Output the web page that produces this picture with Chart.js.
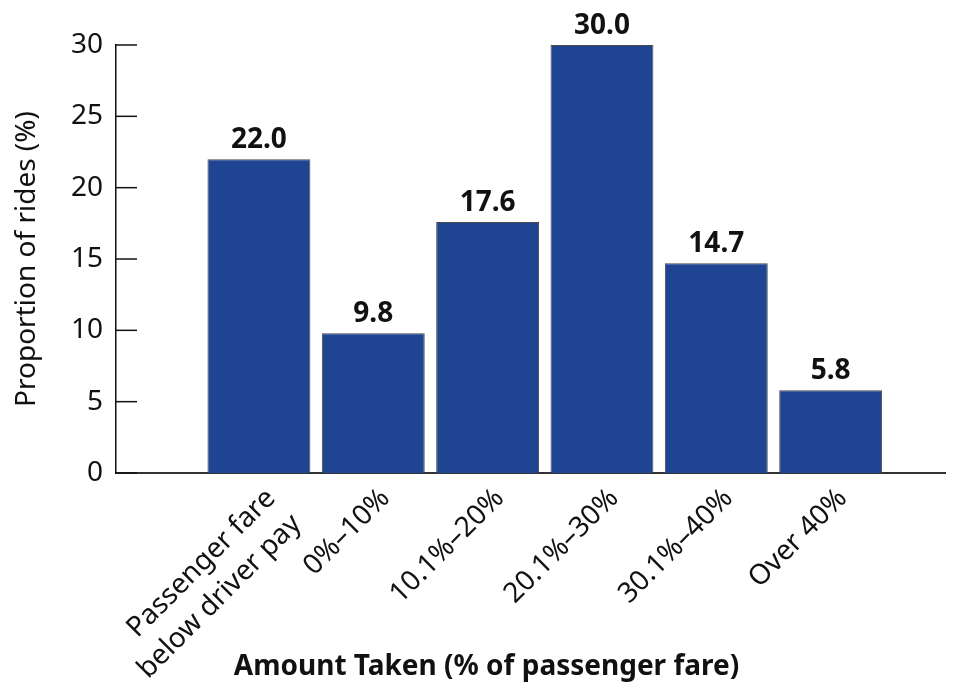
<!DOCTYPE html>
<html>
<head>
<meta charset="utf-8">
<script src="https://cdn.jsdelivr.net/npm/chart.js@4"></script>
<style>
  body { margin: 0; background: #fff; }
  #box { width: 965px; height: 690px; }
</style>
</head>
<body>
<div id="box"><canvas id="grafico"></canvas></div>
<script>
const categorias = [['Passenger fare', 'below driver pay'], '0%–10%', '10.1%–20%', '20.1%–30%', '30.1%–40%', 'Over 40%'];
const valores = [22.0, 9.8, 17.6, 30.0, 14.7, 5.8];
const ticksY = [0, 5, 10, 15, 20, 25, 30];
const tituloX = 'Amount Taken (% of passenger fare)';

const fonte = '"Noto Sans", "DejaVu Sans", sans-serif';

// rotulos de valor em cima das barras
const rotulosBarras = {
  id: 'rotulosBarras',
  afterDatasetsDraw(chart) {
    const ctx = chart.ctx;
    const meta = chart.getDatasetMeta(0);
    ctx.save();
    ctx.font = 'bold 28px ' + fonte;
    ctx.fillStyle = '#111';
    ctx.textAlign = 'center';
    ctx.textBaseline = 'alphabetic';
    meta.data.forEach((barra, i) => {
      ctx.fillText(valores[i].toFixed(1), barra.x, barra.y - 11);
    });
    ctx.restore();
  }
};

// marcas do eixo y para dentro + titulo do eixo x centrado na figura
const extras = {
  id: 'extras',
  afterDraw(chart) {
    const y = chart.scales.y;
    const ctx = chart.ctx;
    ctx.save();
    ctx.strokeStyle = '#111';
    ctx.lineWidth = 1.5;
    ticksY.forEach((v) => {
      const py = y.getPixelForValue(v);
      ctx.beginPath();
      ctx.moveTo(y.right, py);
      ctx.lineTo(y.right + 21, py);
      ctx.stroke();
    });
    ctx.font = 'bold 28px ' + fonte;
    ctx.fillStyle = '#111';
    ctx.textAlign = 'center';
    ctx.textBaseline = 'middle';
    ctx.fillText(tituloX, chart.width / 2 + 4, chart.height - 23);
    ctx.restore();
  }
};

const dados = valores.map((v, i) => ({ x: i + 1, y: v }));

new Chart(document.getElementById('grafico'), {
  type: 'bar',
  data: {
    datasets: [{
      data: dados,
      backgroundColor: '#1f4491',
      borderColor: '#4a4a4a',
      borderWidth: 1,
      barPercentage: 0.9,
      categoryPercentage: 1.0,
    }],
  },
  options: {
    responsive: true,
    maintainAspectRatio: false,
    animation: false,
    layout: { padding: { top: 45, right: 20, left: 0, bottom: 0 } },
    plugins: {
      legend: { display: false },
      tooltip: { enabled: false },
    },
    scales: {
      x: {
        type: 'linear',
        offset: false,
        min: -0.25,
        max: 7,
        afterBuildTicks: (s) => { s.ticks = [1, 2, 3, 4, 5, 6].map((v) => ({ value: v })); },
        afterFit: (s) => { s.height = 217; },
        grid: { display: false, drawTicks: false, offset: false },
        border: { display: true, color: '#333', width: 2 },
        ticks: {
          autoSkip: false,
          maxRotation: 45,
          minRotation: 45,
          padding: 8,
          labelOffset: 12,
          color: '#111',
          font: { size: 28, family: fonte, lineHeight: 1.3 },
          callback: (v) => categorias[v - 1],
        },
      },
      y: {
        min: 0,
        max: 30,
        afterBuildTicks: (s) => { s.ticks = ticksY.map((v) => ({ value: v })); },
        afterFit: (s) => { s.width = 116; },
        grid: { display: false, drawTicks: false },
        border: { display: true, color: '#111', width: 1.5 },
        ticks: {
          padding: 13,
          color: '#111',
          font: { size: 28, family: fonte },
        },
        title: {
          display: true,
          text: 'Proportion of rides (%)',
          color: '#111',
          font: { size: 28, family: fonte },
          padding: { top: 10, bottom: 0 },
        },
      },
    },
  },
  plugins: [rotulosBarras, extras],
});
</script>
</body>
</html>
